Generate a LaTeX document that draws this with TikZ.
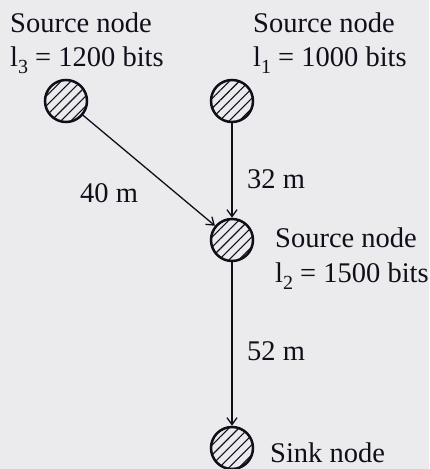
\documentclass[tikz,border=0pt]{standalone}
\usepackage{fontspec}
\setmainfont{Liberation Serif}
\usetikzlibrary{arrows.meta,patterns.meta}
\definecolor{paper}{RGB}{235,235,238}
\definecolor{ink}{RGB}{15,15,25}
\tikzset{
  station/.style={circle, draw=ink, line width=2.5pt, minimum size=42pt, inner sep=0pt,
    pattern={Lines[angle=45,distance=7pt,line width=1.1pt]}, pattern color=ink},
  label/.style={anchor=base west, inner sep=0pt, text=ink,
    font=\fontsize{28.5}{34}\selectfont},
  link/.style={draw=ink, line width=1.3pt, -{Straight Barb[length=7pt,width=10pt,line width=1.3pt]}}
}
\newcommand{\lowsub}[1]{\raisebox{-0.28em}{\fontsize{20}{20}\selectfont #1}}
\begin{document}
\begin{tikzpicture}[x=1pt,y=1pt]
  \fill[paper] (0,0) rectangle (429,-469);
  \useasboundingbox (0,0) rectangle (429,-469);

  % stations
  \node[station] (n3) at (66,-101) {};
  \node[station] (n1) at (232,-101) {};
  \node[station] (n2) at (232,-240) {};
  \node[station] (sink) at (232,-448) {};

  % captions
  \node[label] (c3a) at (10,-32) {Source node};
  \node[label] (c3b) at (10,-66) {l\lowsub{3} = 1200 bits};
  \node[label] (c1a) at (253,-32) {Source node};
  \node[label] (c1b) at (253,-66) {l\lowsub{1} = 1000 bits};
  \node[label] (c2a) at (275,-247) {Source node};
  \node[label] (c2b) at (275,-282) {l\lowsub{2} = 1500 bits};
  \node[label] (cs) at (270,-462) {Sink node};

  % links
  \draw[link] (n3) -- (n2);
  \draw[link] (n1) -- (n2);
  \draw[link] (n2) -- (sink);

  % distances
  \node[label] (d3) at (80,-202) {40 m};
  \node[label] (d1) at (247,-188) {32 m};
  \node[label] (d2) at (247,-360) {52 m};
\end{tikzpicture}
\end{document}
